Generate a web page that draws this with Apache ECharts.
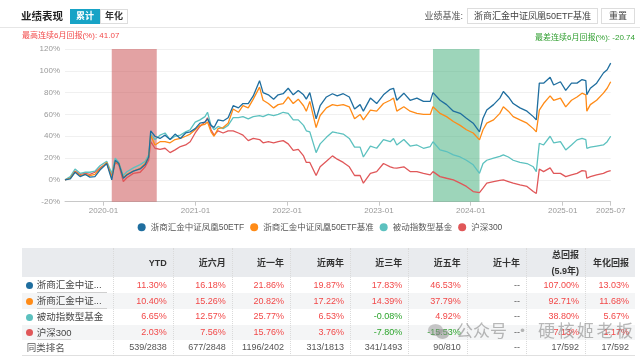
<!DOCTYPE html>
<html><head><meta charset="utf-8">
<script src="https://cdn.jsdelivr.net/npm/echarts@6/dist/echarts.min.js"></script>
<style>
body{margin:0;width:640px;height:357px;overflow:hidden;background:#fff;font-family:"Liberation Sans","Noto Sans CJK SC",sans-serif;}
#chart{position:absolute;left:0;top:0;width:640px;height:357px;}
.ov{position:absolute;white-space:nowrap;box-sizing:border-box;}
</style></head>
<body>
<div id="chart"></div>
<div id="overlay"></div>
<script>
// ---------- data ----------
const dates = ['2019-08-01','2019-08-22','2019-09-10','2019-09-30','2019-10-21','2019-11-08','2019-11-28','2019-12-18','2020-01-14','2020-02-03','2020-02-17','2020-03-02','2020-03-20','2020-04-03','2020-04-29','2020-05-26','2020-06-15','2020-06-29','2020-07-07','2020-07-24','2020-08-13','2020-09-02','2020-09-22','2020-10-12','2020-11-02','2020-11-23','2020-12-11','2020-12-31','2021-01-19','2021-02-08','2021-02-18','2021-03-04','2021-03-16','2021-04-01','2021-04-21','2021-05-11','2021-05-31','2021-06-21','2021-07-09','2021-07-30','2021-08-19','2021-09-13','2021-09-27','2021-10-18','2021-11-08','2021-11-26','2021-12-16','2022-01-05','2022-01-25','2022-02-14','2022-03-07','2022-03-18','2022-04-01','2022-04-26','2022-05-12','2022-06-06','2022-06-30','2022-07-19','2022-08-12','2022-09-05','2022-09-26','2022-10-18','2022-10-31','2022-11-28','2022-12-23','2023-01-19','2023-02-15','2023-02-28','2023-03-13','2023-04-10','2023-05-05','2023-06-01','2023-06-27','2023-07-24','2023-08-04','2023-09-01','2023-09-27','2023-10-24','2023-11-20','2023-12-15','2024-01-11','2024-02-05','2024-02-19','2024-03-05','2024-04-01','2024-04-26','2024-05-10','2024-05-30','2024-06-18','2024-07-15','2024-08-12','2024-09-06','2024-09-18','2024-09-30','2024-10-17','2024-11-12','2024-11-26','2024-12-23','2025-01-13','2025-02-05','2025-02-27','2025-03-19','2025-04-03','2025-04-07','2025-04-21','2025-05-16','2025-06-12','2025-06-27','2025-07-11'];
const etf = [0,1,7,3,5,2.5,3,9,15,0,18,15,1.5,4.5,8,10,14,21,45,40,38,41,37,42,38,43,44,47,52,53,56,50,48,55,54,57,68,66,70,70,77,91,80,78,74,78,79,84,78,82,78,74,80,56,68,76,79,77,79,76,65,69,63,75,70,78,83,84,73,79.5,73,75,72,72,80,73,69,63,61,56.6,52,44,56.6,64,69,75,81,76,70,66,63,58,55,88.7,88.7,94,87,90,82,88.7,88.7,92,91,78,84,88.7,98,101,107];
const bench = [0,1.5,7.5,4,5,4,5,10,16,2,17,15,2,5,8,10.5,15,21,41,32,35,35,34,37,38,40,42,46,50,51,53,44,40,47,48,52,65,62,68,66,74,85,73,70,66,69,70,76,70,74,68,63,72,48,59,66,69,68,69,67,56,60,55,64,63,70,73,75,63,67,63,61,60,60,67,61,58,53.5,50,46,43,36.7,46,52,55,61,67,63,58,55,52,47,44,64,70,77,73,75,67,73,76,79.5,78,63,69,73,79.5,84,90];
const passive = [0,3,10,6,7,7,8,13,17,6,20,16,4,7.5,11,14,17,23,42,37,41,43,37,40,41,44,46,53,55,58,62,50,46,49,47,50,57,57,58,56,58,59,58,60,59,60,62,61,55,55,50,45,44,25,33,39,44,43,42,38,30,30,21,31,29,37,35,38,32,37,31,32,29,30.6,35,27.5,26,23,21,18,13.8,6,15,18,20,21.5,23,21,18,16,15,12,7.6,33.6,32,40,34,35,27.5,32,36.7,38,37,29,30,31,32,35,40];
const hs300 = [0,2,8,5,6,5,7,11,15,4,16,14,-1.5,2,6,7,12,18,35,29,28,29,25,27.5,30.6,32,35,43,49,53,57,46,41,45,43,45,45,43,41,36,38,37,34,35,34,35,36,33,27,28,22,16,16,4,12,17,22,19,16,12,4,4,-3,6,7.6,15,12,11,10.7,12,7.6,7.6,6,4.6,7.6,3,1.5,0,-3,-6,-10.7,-11.6,-7.6,-3,-1.5,-0.5,0,-1.5,-3,-4.6,-6,-10.7,-12.5,10,7.6,11,6,6,3,4.6,6,8.5,8,1.5,3,4.6,6,7.6,8.5];
const seriesNames = ['浙商汇金中证凤凰50ETF','浙商汇金中证凤凰50ETF基准','被动指数型基金','沪深300'];
const seriesColors = ['#1f6e9f','#ff8b17','#5cc1bf','#e05759'];
const bestPeriod = ['2020-02-03','2020-07-31'];
const worstPeriod = ['2023-08-04','2024-02-05'];
const tickDates = ['2020-01-01','2021-01-01','2022-01-01','2023-01-01','2024-01-01','2025-01-01','2025-07-11'];
const tickLabels = ['2020-01','2021-01','2022-01','2023-01','2024-01','2025-01','2025-07'];
const yTicks = [-20,0,20,40,60,80,100,120];

// table data
const tableCols = ['YTD','近六月','近一年','近两年','近三年','近五年','近十年','总回报|(5.9年)','年化回报'];
const rowLabels = ['浙商汇金中证...','浙商汇金中证...','被动指数型基金','沪深300','同类排名'];
const rowEtf = ['11.30%','16.18%','21.86%','19.87%','17.83%','46.53%','--','107.00%','13.03%'];
const rowBench = ['10.40%','15.26%','20.82%','17.22%','14.39%','37.79%','--','92.71%','11.68%'];
const rowPassive = ['6.65%','12.57%','25.77%','6.53%','-0.08%','4.92%','--','38.80%','5.67%'];
const rowHs300 = ['2.03%','7.56%','15.76%','3.76%','-7.80%','-15.53%','--','7.13%','1.17%'];
const rowRank = ['539/2838','677/2848','1196/2402','313/1813','341/1493','90/810','--','17/592','17/592'];

// ---------- chart ----------
const toTs = s => { const p = s.split('-').map(Number); return Date.UTC(p[0], p[1]-1, p[2]); };
const tickTs = tickDates.map(toTs);
const lineData = [etf, bench, passive, hs300];
const chart = echarts.init(document.getElementById('chart'), null, {renderer:'canvas'});
const font = '"Liberation Sans","Noto Sans CJK SC",sans-serif';
const series = [{
  type:'line', data:[[toTs(dates[0]), null]], z:1, silent:true, showSymbol:false,
  markArea:{silent:true, data:[
    [{xAxis:toTs(bestPeriod[0]), itemStyle:{color:'rgba(200,70,72,0.5)'}},{xAxis:toTs(bestPeriod[1])}],
    [{xAxis:toTs(worstPeriod[0]), itemStyle:{color:'rgba(60,172,118,0.5)'}},{xAxis:toTs(worstPeriod[1])}]
  ]}
}];
seriesNames.forEach((n,i)=>{
  series.push({name:n, type:'line', showSymbol:false, z:2+(3-i), color:seriesColors[i],
    lineStyle:{width:1.3, color:seriesColors[i]},
    data: dates.map((d,j)=>[toTs(d), lineData[i][j]])});
});
chart.setOption({
  animation:false,
  textStyle:{fontFamily:font},
  grid:{left:65, right:29.3, top:49, bottom:155.3, containLabel:false, outerBoundsMode:'none'},
  legend:{data:seriesNames, top:223, left:'center', icon:'circle', itemWidth:8, itemHeight:8, itemGap:6, padding:0,
    textStyle:{fontSize:8.5, color:'#555', fontFamily:font}},
  xAxis:{type:'value', min:toTs('2019-08-01'), max:toTs('2025-07-11'), scale:true,
    axisLine:{show:true, onZero:false, lineStyle:{color:'#c8c8c8'}},
    axisTick:{show:true, length:4, lineStyle:{color:'#c8c8c8'}, customValues:tickTs},
    axisLabel:{fontSize:8, color:'#999', margin:5, customValues:tickTs,
      formatter:(v)=>{ const i = tickTs.indexOf(v); return i>=0 ? tickLabels[i] : ''; }},
    splitLine:{show:false}},
  yAxis:{type:'value', min:yTicks[0], max:yTicks[yTicks.length-1], interval:20,
    axisLabel:{fontSize:8, color:'#999', margin:5, formatter:'{value}%'},
    axisLine:{show:false}, axisTick:{show:false},
    splitLine:{lineStyle:{color:'#f0f0f0'}}},
  series
});

// ---------- overlay: header & table ----------
const ov = document.getElementById('overlay');
function add(html, style){ const d=document.createElement('div'); d.className='ov'; d.innerHTML=html; Object.assign(d.style, style); ov.appendChild(d); return d; }
add('业绩表现',{left:'21px',top:'9px',fontSize:'10.5px',fontWeight:'bold',color:'#222',lineHeight:'15px'});
add('累计',{left:'70px',top:'9px',width:'30px',height:'15px',background:'#17a3c6',color:'#fff',fontSize:'9px',fontWeight:'bold',lineHeight:'15px',textAlign:'center'});
add('年化',{left:'100px',top:'9px',width:'28px',height:'15px',border:'1px solid #ddd',color:'#333',fontSize:'9px',fontWeight:'bold',lineHeight:'13px',textAlign:'center'});
add('',{left:'0px',top:'27px',width:'640px',height:'1px',background:'#e6e6e6'});
add('最高连续6月回报(%):&nbsp;41.07',{left:'22px',top:'30px',fontSize:'8px',color:'#f24a4a',lineHeight:'11px'});
add('最差连续6月回报(%):&nbsp;-20.74',{right:'5px',top:'32px',fontSize:'8px',color:'#2f9e2f',lineHeight:'11px'});
add('业绩基准:',{right:'177px',top:'9px',fontSize:'9px',color:'#555',lineHeight:'15px'});
add('浙商汇金中证凤凰50ETF基准',{left:'467px',top:'8px',width:'131px',height:'16px',border:'1px solid #ddd',fontSize:'9px',color:'#444',lineHeight:'14px',textAlign:'center'});
add('重置',{left:'601px',top:'8px',width:'34px',height:'16px',border:'1px solid #ddd',fontSize:'9px',color:'#444',lineHeight:'14px',textAlign:'center'});

const colX = [21.7,113.3,172.7,231.7,290,350,408.3,466.7,526,585,635];
const rowY = [248.3,277.3,293.3,309.3,325,340.3,355.7];
add('',{left:colX[0]+'px',top:rowY[0]+'px',width:(colX[10]-colX[0])+'px',height:(rowY[1]-rowY[0])+'px',background:'#e9ebee'});
[2,4].forEach(r=>add('',{left:colX[0]+'px',top:rowY[r]+'px',width:(colX[10]-colX[0])+'px',height:(rowY[r+1]-rowY[r])+'px',background:'#f4f5f6'}));
add('',{left:colX[0]+'px',top:(rowY[6]-1)+'px',width:(colX[10]-colX[0])+'px',height:'1px',background:'#e0e0e0'});
for(let c=1;c<10;c++) add('',{left:colX[c]+'px',top:rowY[0]+'px',width:'0px',height:(rowY[6]-rowY[0])+'px',borderLeft:'1px dotted #dadada'});
tableCols.forEach((h,c)=>{
  const parts = h.split('|');
  const st = {left:colX[c+1]+'px',top:rowY[0]+'px',width:(colX[c+2]-colX[c+1]-6)+'px',height:(rowY[1]-rowY[0])+'px',fontSize:'9px',fontWeight:'bold',color:'#333',textAlign:'right',display:'flex',flexDirection:'column',justifyContent:'center',alignItems:'flex-end',lineHeight:'16px'};
  add(parts.join('<br>'), st);
});
const rowsVals = [rowEtf,rowBench,rowPassive,rowHs300,rowRank];
rowsVals.forEach((vals,r)=>{
  const top = rowY[r+1], h = rowY[r+2]-rowY[r+1];
  if(r<4){
    add('',{left:'25.5px',top:(top+h/2-3.5)+'px',width:'7px',height:'7px',borderRadius:'50%',background:seriesColors[r]});
    const u = (r===0||r===1) ? '70px' : (r===3 ? '34px' : null);
    add(rowLabels[r],{left:'36.7px',top:top+'px',height:h+'px',fontSize:'9.5px',color:'#444',lineHeight:h+'px'});
    if(u) add('',{left:'36.7px',top:(top+h-1.5)+'px',width:u,height:'1px',background:'#cfcfcf'});
  } else {
    add(rowLabels[r],{left:'26.7px',top:top+'px',height:h+'px',fontSize:'9.5px',color:'#555',lineHeight:h+'px'});
  }
  vals.forEach((v,c)=>{
    let col = '#555';
    if(r<4 && v!=='--') col = v.charAt(0)==='-' ? '#2ca42c' : '#f24848';
    add(v,{left:colX[c+1]+'px',top:top+'px',width:(colX[c+2]-colX[c+1]-6)+'px',height:h+'px',fontSize:'9px',color:col,textAlign:'right',lineHeight:h+'px'});
  });
});
// watermark
add('<span style="display:inline-block;width:22px;height:18px;position:relative;vertical-align:middle;margin-right:6px"><span style="position:absolute;left:0;top:1px;width:15px;height:12px;border-radius:50%;background:rgba(140,140,140,0.45)"></span><span style="position:absolute;left:8px;top:6px;width:13px;height:10px;border-radius:50%;background:rgba(140,140,140,0.55)"></span></span>公众号<span style="margin:0 7px">·</span><span style="letter-spacing:2.5px">硬核姬老板</span>',
  {left:'428px',top:'319px',fontSize:'17px',color:'rgba(125,125,125,0.55)',lineHeight:'22px',fontFamily:'"Noto Sans CJK SC",sans-serif'});
</script>
</body></html>
